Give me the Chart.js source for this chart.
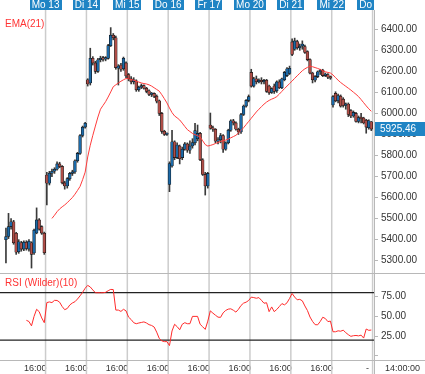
<!DOCTYPE html>
<html lang="de">
<head>
<meta charset="UTF-8">
<title>Kursverlauf mit EMA(21) und RSI(10)</title>
<script src="https://cdn.jsdelivr.net/npm/chart.js@4.4.1/dist/chart.umd.min.js"></script>
<style>
  body { margin: 0; background: #fff; width: 425px; height: 374px; overflow: hidden; position: relative;
         font-family: Arial, "Liberation Sans", sans-serif; }
  #priceBox { position: absolute; left: 0; top: 0; width: 425px; height: 273px; }
  #rsiBox { position: absolute; left: 0; top: 273px; width: 425px; height: 101px; }
  .lbl { position: absolute; font-size: 10px; line-height: 12px; white-space: nowrap; }
  .red { color: #ff3333; }
  .dark { color: #333; font-size: 9px; }
</style>
</head>
<body>
<div id="priceBox"><canvas id="priceChart"></canvas></div>
<div id="rsiBox"><canvas id="rsiChart"></canvas></div>
<div class="lbl red" style="left:5px;top:18px">EMA(21)</div>
<div class="lbl red" style="left:5px;top:277px">RSI (Wilder)(10)</div>
<div class="lbl dark" style="left:366px;top:362px">-</div>
<div class="lbl dark" style="left:385px;top:362px">14:00:00</div>

<script>
// day separators (between candles) and their labels
const days = ['Mo 13', 'Di 14', 'Mi 15', 'Do 16', 'Fr 17', 'Mo 20', 'Di 21', 'Mi 22', 'Do 23'];
const dayStarts = [15.5, 31.5, 47.5, 63.5, 79.5, 95.5, 111.5, 127.5, 143.5];
const timeTicks = [11.5, 27.5, 43.5, 59.5, 75.5, 91.5, 107.5, 123.5];
const timeLabels = ['16:00', '16:00', '16:00', '16:00', '16:00', '16:00', '16:00', '16:00'];
const priceTicks = [5300, 5400, 5500, 5600, 5700, 5800, 5900, 6000, 6100, 6200, 6300, 6400];
const rsiTicks = [0, 25, 50, 75];
const rsiLevels = [80, 20];
const lastPrice = 5925.46;

// candles, 16 per day
const open = [
  5400, 5415, 5462, 5485, 5430, 5343, 5385, 5355, 5388, 5355, 5385, 5337, 5432, 5494, 5462, 5431,
  5707, 5668, 5716, 5725, 5735, 5760, 5748, 5670, 5655, 5690, 5715, 5722, 5775, 5810, 5895, 5935,
  6160, 6145, 6262, 6240, 6200, 6255, 6262, 6258, 6262, 6322, 6372, 6360, 6215, 6230, 6212, 6240,
  6185, 6165, 6150, 6155, 6112, 6125, 6132, 6120, 6108, 6090, 6095, 6082, 6060, 6000, 5915, 5900,
  5662, 5750, 5865, 5790, 5845, 5790, 5830, 5855, 5825, 5845, 5860, 5880, 5905, 5780, 5710, 5655,
  5945, 5930, 5925, 5868, 5875, 5895, 5830, 5860, 5920, 5965, 5955, 5925, 5912, 5995, 6035, 6062,
  6195, 6130, 6165, 6150, 6158, 6150, 6158, 6130, 6100, 6130, 6108, 6150, 6122, 6160, 6180, 6190,
  6340, 6305, 6342, 6312, 6320, 6318, 6294, 6256, 6192, 6158, 6175, 6198, 6205, 6180, 6185, 6172,
  6040, 6095, 6060, 6082, 6068, 6038, 6045, 6014, 5988, 6000, 5962, 5980, 5978, 5968, 5932, 5960
];
const high = [
  5455, 5525, 5500, 5492, 5435, 5400, 5392, 5395, 5395, 5400, 5390, 5450, 5551, 5500, 5466, 5436,
  5720, 5725, 5735, 5742, 5770, 5768, 5752, 5678, 5695, 5720, 5730, 5780, 5815, 5900, 5940, 5958,
  6165, 6310, 6270, 6248, 6262, 6272, 6272, 6270, 6328, 6408, 6380, 6368, 6232, 6238, 6268, 6245,
  6190, 6175, 6170, 6160, 6130, 6140, 6136, 6124, 6112, 6100, 6098, 6088, 6064, 6005, 5920, 5908,
  5770, 5920, 5870, 5860, 5850, 5840, 5862, 5860, 5870, 5880, 5953, 5945, 5910, 5785, 5720, 5720,
  6002, 5940, 5928, 5885, 5905, 5900, 5865, 5925, 5970, 5972, 5960, 5930, 6000, 6040, 6066, 6088,
  6210, 6172, 6178, 6165, 6170, 6162, 6162, 6135, 6122, 6140, 6155, 6160, 6168, 6200, 6218, 6225,
  6355, 6358, 6348, 6330, 6345, 6325, 6298, 6260, 6196, 6180, 6202, 6210, 6210, 6192, 6190, 6178,
  6085, 6103, 6092, 6088, 6075, 6050, 6050, 6018, 6012, 6005, 5988, 6001, 5982, 5972, 5970, 5962
];
const low = [
  5290, 5405, 5450, 5378, 5330, 5335, 5345, 5348, 5350, 5345, 5265, 5330, 5428, 5445, 5425, 5330,
  5565, 5660, 5700, 5715, 5730, 5742, 5665, 5640, 5645, 5682, 5705, 5715, 5768, 5805, 5888, 5930,
  6130, 6135, 6230, 6190, 6195, 6245, 6248, 6250, 6258, 6318, 6350, 6210, 6135, 6200, 6205, 6170,
  6155, 6140, 6140, 6105, 6105, 6118, 6115, 6098, 6085, 6080, 6075, 6050, 5990, 5905, 5895, 5895,
  5628, 5745, 5780, 5785, 5760, 5780, 5825, 5815, 5810, 5835, 5850, 5870, 5775, 5705, 5612, 5645,
  5925, 5915, 5860, 5855, 5860, 5815, 5825, 5855, 5915, 5945, 5920, 5900, 5905, 5990, 6030, 6055,
  6125, 6125, 6140, 6145, 6140, 6140, 6100, 6090, 6095, 6095, 6100, 6118, 6118, 6155, 6175, 6185,
  6275, 6300, 6305, 6300, 6305, 6285, 6250, 6188, 6145, 6150, 6170, 6185, 6175, 6175, 6165, 6162,
  6030, 6055, 6050, 6030, 6030, 6020, 5985, 5980, 5982, 5958, 5955, 5955, 5950, 5906, 5925, 5918
];
const close = [
  5415, 5462, 5485, 5385, 5340, 5390, 5355, 5388, 5358, 5392, 5330, 5445, 5494, 5450, 5431, 5338,
  5668, 5716, 5725, 5735, 5760, 5748, 5670, 5655, 5690, 5715, 5722, 5775, 5810, 5895, 5935, 5953,
  6140, 6262, 6240, 6200, 6255, 6262, 6258, 6262, 6322, 6372, 6360, 6218, 6225, 6210, 6262, 6178,
  6165, 6150, 6160, 6112, 6125, 6132, 6120, 6105, 6090, 6095, 6082, 6058, 6000, 5915, 5900, 5905,
  5762, 5865, 5790, 5850, 5785, 5830, 5855, 5825, 5845, 5862, 5918, 5905, 5780, 5710, 5655, 5715,
  5930, 5925, 5868, 5875, 5895, 5830, 5860, 5920, 5965, 5955, 5925, 5912, 5995, 6035, 6062, 6080,
  6130, 6165, 6150, 6158, 6150, 6155, 6105, 6098, 6118, 6105, 6150, 6122, 6165, 6195, 6212, 6215,
  6280, 6345, 6312, 6320, 6330, 6290, 6256, 6192, 6160, 6175, 6198, 6200, 6180, 6185, 6172, 6168,
  6080, 6060, 6085, 6035, 6038, 6045, 5995, 5988, 6005, 5962, 5980, 5975, 5955, 5935, 5965, 5925.46
];

// EMA(21) as drawn
const ema = [
  null, null, null, null, null, null, null, null, null, null, null, null, null, null, null, null,
  null, null, 5501, 5516, 5533, 5546, 5556, 5565, 5576, 5588, 5600, 5616, 5634, 5653, 5685, 5721,
  5793, 5849, 5896, 5940, 5983, 6020, 6038, 6056, 6078, 6102, 6127, 6136, 6145, 6153, 6160, 6166,
  6165, 6161, 6158, 6154, 6149, 6145, 6142, 6140, 6136, 6130, 6122, 6114, 6106, 6089, 6070, 6050,
  6026, 6004, 5988, 5979, 5969, 5954, 5938, 5923, 5914, 5905, 5899, 5894, 5888, 5870, 5852, 5845,
  5848, 5852, 5857, 5862, 5867, 5870, 5873, 5878, 5884, 5890, 5896, 5907, 5919, 5932, 5947, 5962,
  5977, 5992, 6007, 6020, 6032, 6044, 6054, 6062, 6068, 6073, 6080, 6092, 6105, 6118, 6130, 6142,
  6154, 6167, 6179, 6191, 6203, 6212, 6219, 6225, 6222, 6218, 6214, 6209, 6203, 6198, 6195, 6192,
  6183, 6170, 6158, 6147, 6138, 6129, 6120, 6111, 6101, 6091, 6080, 6066, 6051, 6036, 6022, 6010
];

// RSI (Wilder)(10) as drawn
const rsi = [
  null, null, null, null, null, null, null, null, 45, 43.5, 38, 50, 59, 56, 48, 42,
  67.5, 68.3, 67.5, 70.3, 70.2, 68, 62.5, 58.5, 60, 64.5, 67, 68.6, 72, 76, 80.5, 85.7,
  89.3, 87.3, 83.5, 80, 80, 80, 80, 80.5, 82.5, 84.2, 84, 58, 58, 56.3, 59, 57,
  49, 46, 42, 40.7, 41.6, 42.3, 43, 41.6, 39.5, 38.5, 36.5, 30, 22, 19, 18, 18,
  13, 31.5, 40, 37, 33, 40, 42, 40.7, 40.7, 50, 50, 50, 40, 36.8, 33.5, 44,
  57, 54.1, 51.5, 49, 48.8, 54.5, 57.5, 59.2, 59.6, 57.8, 55.4, 59, 63.8, 66.8, 68, 70.2,
  74.4, 73.8, 73, 73.8, 70.4, 66.7, 67.3, 56, 62, 56, 58.8, 62.5, 66.2, 64.6, 67.2, 72.8,
  79, 74.5, 71, 71.6, 69.7, 63.2, 57.4, 49.2, 43.6, 39.5, 39.3, 43.5, 48.9, 47.3, 43.4, 44,
  30.5, 30.5, 31.7, 31.2, 32.5, 29.4, 26.8, 24.7, 25.5, 25.8, 25.3, 26.2, 22.5, 34, 32.3, 32.7
];

const UP = '#1c6aa8';
const DOWN = '#b04e48';
const GRID = '#cccccc';
const AXIS = '#b8b8b8';

Chart.defaults.font.family = 'Arial, "Liberation Sans", sans-serif';
Chart.defaults.font.size = 10;
Chart.defaults.color = '#333';
Chart.defaults.animation = false;

// vertical day separators
const dayLines = {
  id: 'dayLines',
  beforeDatasetsDraw(chart, args, opts) {
    const { ctx, chartArea, scales } = chart;
    ctx.save();
    ctx.strokeStyle = GRID;
    ctx.lineWidth = 1.5;
    dayStarts.forEach(v => {
      const x = scales.x.getPixelForValue(v);
      ctx.beginPath();
      ctx.moveTo(x, opts.full ? 0 : chartArea.top);
      ctx.lineTo(x, opts.full ? chart.height : chartArea.bottom);
      ctx.stroke();
    });
    ctx.restore();
  }
};

// blue day tags above the price panel + last price marker
const priceDecor = {
  id: 'priceDecor',
  afterDraw(chart) {
    const { ctx, chartArea, scales } = chart;
    ctx.save();
    ctx.beginPath();
    ctx.rect(0, 0, chartArea.right, chartArea.top);
    ctx.clip();
    ctx.font = '10px Arial, "Liberation Sans", sans-serif';
    ctx.textAlign = 'center';
    ctx.textBaseline = 'middle';
    days.forEach((d, k) => {
      const x = scales.x.getPixelForValue(dayStarts[k]);
      const w = ctx.measureText(d).width + 4;
      ctx.fillStyle = '#1f84c4';
      ctx.fillRect(Math.round(x - w / 2), 0, Math.round(w), 10);
      ctx.fillStyle = '#fff';
      ctx.fillText(d, x, 5.5);
    });
    ctx.restore();

    const y = scales.y.getPixelForValue(lastPrice);
    ctx.save();
    ctx.fillStyle = '#1f84c4';
    ctx.fillRect(chartArea.right + 1, Math.round(y - 7), chart.width - chartArea.right - 1, 14);
    ctx.fillStyle = '#fff';
    ctx.font = '10px Arial, "Liberation Sans", sans-serif';
    ctx.textBaseline = 'middle';
    ctx.fillText(lastPrice.toFixed(2), chartArea.right + 6, Math.round(y) + 0.5);
    ctx.restore();
  }
};

// RSI guide levels and panel frame
const rsiDecor = {
  id: 'rsiDecor',
  beforeDatasetsDraw(chart) {
    const { ctx, chartArea, scales } = chart;
    ctx.save();
    ctx.strokeStyle = '#222';
    ctx.lineWidth = 1.2;
    rsiLevels.forEach(v => {
      const y = scales.y.getPixelForValue(v);
      ctx.beginPath();
      ctx.moveTo(chartArea.left, y);
      ctx.lineTo(chartArea.right, y);
      ctx.stroke();
    });
    ctx.strokeStyle = AXIS;
    ctx.lineWidth = 1;
    ctx.beginPath();
    ctx.moveTo(0, 0.5); ctx.lineTo(chart.width, 0.5);
    ctx.moveTo(0, chartArea.bottom + 0.5); ctx.lineTo(chart.width, chartArea.bottom + 0.5);
    ctx.moveTo(chartArea.right + 0.5, 0); ctx.lineTo(chartArea.right + 0.5, chart.height);
    ctx.stroke();
    ctx.restore();
  }
};

const xRange = { type: 'linear', min: -2.33, max: 144.05, offset: false };

new Chart(document.getElementById('priceChart'), {
  type: 'bar',
  data: {
    datasets: [
      {
        type: 'line',
        label: 'EMA(21)',
        data: ema.map((v, i) => ({ x: i, y: v })),
        borderColor: '#ff3b3b',
        borderWidth: 1,
        pointRadius: 0,
        order: 0
      },
      {
        label: 'Body',
        data: close.map((c, i) => ({ x: i, y: [open[i], c] })),
        backgroundColor: ctx => close[ctx.dataIndex] >= open[ctx.dataIndex] ? UP : DOWN,
        borderColor: '#111',
        borderWidth: 0.6,
        borderSkipped: false,
        barThickness: 2.8,
        minBarLength: 1.5,
        grouped: false,
        order: 1
      },
      {
        label: 'Wick',
        data: close.map((c, i) => ({ x: i, y: [low[i], high[i]] })),
        backgroundColor: '#3a3a3a',
        barThickness: 1,
        grouped: false,
        order: 2
      }
    ]
  },
  options: {
    responsive: true,
    maintainAspectRatio: false,
    layout: { padding: { top: 10, left: 0, right: 0, bottom: 0 } },
    plugins: { legend: { display: false }, tooltip: { enabled: false }, dayLines: { full: false } },
    scales: {
      x: Object.assign({}, xRange, { display: false }),
      y: {
        type: 'linear',
        position: 'right',
        min: 5241.5,
        max: 6491.7,
        afterBuildTicks: s => { s.ticks = priceTicks.map(v => ({ value: v })); },
        afterFit: s => { s.width = 51; s.paddingTop = 0; s.paddingBottom = 0; },
        grid: { drawOnChartArea: false, tickLength: 4, color: AXIS },
        border: { color: AXIS },
        ticks: { callback: v => v.toFixed(2), padding: 3, color: '#333', font: { size: 10 } }
      }
    }
  },
  plugins: [dayLines, priceDecor]
});

new Chart(document.getElementById('rsiChart'), {
  type: 'line',
  data: {
    datasets: [{
      label: 'RSI (Wilder)(10)',
      data: rsi.map((v, i) => ({ x: i, y: v })),
      borderColor: '#ff2a2a',
      borderWidth: 1,
      pointRadius: 0
    }]
  },
  options: {
    responsive: true,
    maintainAspectRatio: false,
    layout: { padding: 0 },
    plugins: { legend: { display: false }, tooltip: { enabled: false }, dayLines: { full: true } },
    scales: {
      x: Object.assign({}, xRange, {
        position: 'bottom',
        afterBuildTicks: s => { s.ticks = timeTicks.map(v => ({ value: v })); },
        afterFit: s => { s.height = 14; s.paddingLeft = 0; s.paddingRight = 0; },
        grid: { display: false, drawTicks: false },
        border: { display: false },
        ticks: {
          callback: (v, k) => timeLabels[k],
          maxRotation: 0,
          autoSkip: false,
          padding: 3,
          color: '#333',
          font: { size: 9 }
        }
      }),
      y: {
        type: 'linear',
        position: 'right',
        min: -5.3,
        max: 105,
        afterBuildTicks: s => { s.ticks = rsiTicks.map(v => ({ value: v })); },
        afterFit: s => { s.width = 51; s.paddingTop = 0; s.paddingBottom = 0; },
        grid: { drawOnChartArea: false, tickLength: 4, color: AXIS },
        border: { display: false },
        ticks: { callback: v => v === 0 ? '' : v.toFixed(2), padding: 3, color: '#333', font: { size: 10 } }
      }
    }
  },
  plugins: [dayLines, rsiDecor]
});
</script>
</body>
</html>
